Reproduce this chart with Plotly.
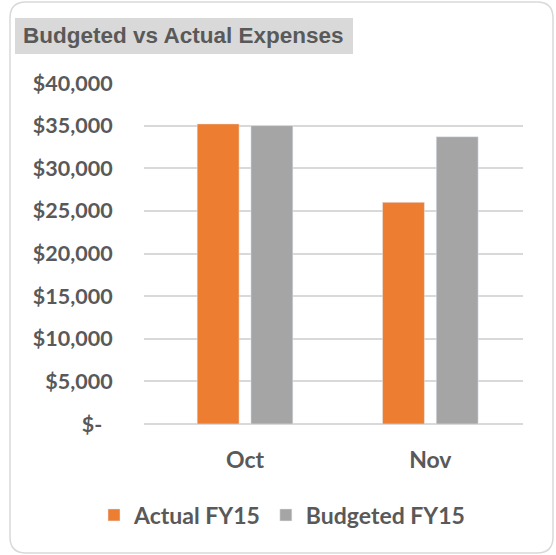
import plotly.graph_objects as go

# Data
months = ["Oct", "Nov"]
actual_fy15 = [35200, 26000]
budgeted_fy15 = [35000, 33700]
tick_values = [0, 5000, 10000, 15000, 20000, 25000, 30000, 35000, 40000]
tick_labels = ["$-  ", "$5,000", "$10,000", "$15,000", "$20,000",
               "$25,000", "$30,000", "$35,000", "$40,000"]

W, H = 556, 555
L, R, T, B = 144, 33, 83, 131
pw, ph = W - L - R, H - T - B


def px(x):
    return (x - L) / pw


def py(y):
    return (H - B - y) / ph


text_col = "#595959"
grid_col = "#D9D9D9"

fig = go.Figure()
fig.add_trace(go.Bar(x=months, y=actual_fy15, name="Actual FY15", marker_color="#ED7D31"))
fig.add_trace(go.Bar(x=months, y=budgeted_fy15, name="Budgeted FY15", marker_color="#A5A5A5"))

# rounded chart border
x0, x1, y0, y1 = px(10), px(553), py(553), py(2)
rx, ry = 16 / pw, 16 / ph
path = (f"M {x0 + rx} {y1} L {x1 - rx} {y1} Q {x1} {y1} {x1} {y1 - ry} "
        f"L {x1} {y0 + ry} Q {x1} {y0} {x1 - rx} {y0} L {x0 + rx} {y0} "
        f"Q {x0} {y0} {x0} {y0 + ry} L {x0} {y1 - ry} Q {x0} {y1} {x0 + rx} {y1} Z")

fig.update_layout(
    width=W, height=H,
    margin=dict(l=L, r=R, t=T, b=B, autoexpand=False),
    paper_bgcolor="white", plot_bgcolor="white",
    barmode="group", bargap=0.42, bargroupgap=0.22,
    font=dict(family="Lato", color=text_col),
    showlegend=True,
    legend=dict(orientation="h", x=px(282), xanchor="center",
                y=py(515), yanchor="middle",
                font=dict(family="Lato", size=23, color=text_col, weight="bold"),
                itemwidth=30, traceorder="normal"),
    shapes=[dict(type="path", path=path, xref="paper", yref="paper",
                 line=dict(color="#D9D9D9", width=1.5), fillcolor="rgba(0,0,0,0)"),
            dict(type="rect", xref="paper", yref="paper",
                 x0=px(15), x1=px(353), y0=py(54), y1=py(18),
                 line=dict(width=0), fillcolor="#D9D9D9")],
    annotations=[dict(text="Budgeted vs Actual Expenses", xref="paper", yref="paper",
                      x=px(21), y=py(36), xanchor="left", yanchor="middle",
                      showarrow=False,
                      font=dict(family="Liberation Sans", size=22.5, color=text_col, weight="bold"))],
)
fig.update_xaxes(range=[-0.545, 1.5], showgrid=False, showline=False,
                 ticks="outside", ticklen=15, tickcolor="rgba(0,0,0,0)",
                 tickfont=dict(family="Lato", size=23, color=text_col, weight="bold"))
fig.update_yaxes(range=[0, 40000], tickvals=tick_values, ticktext=tick_labels,
                 showgrid=True, gridcolor=grid_col, gridwidth=1.5,
                 zeroline=True, zerolinecolor=grid_col, zerolinewidth=1.5,
                 ticks="outside", ticklen=26, tickcolor="rgba(0,0,0,0)",
                 tickfont=dict(family="Lato", size=21.5, color=text_col, weight="bold"))

fig.write_html("out.html", config={"displayModeBar": False},
               post_script="document.body.style.margin='0';")
